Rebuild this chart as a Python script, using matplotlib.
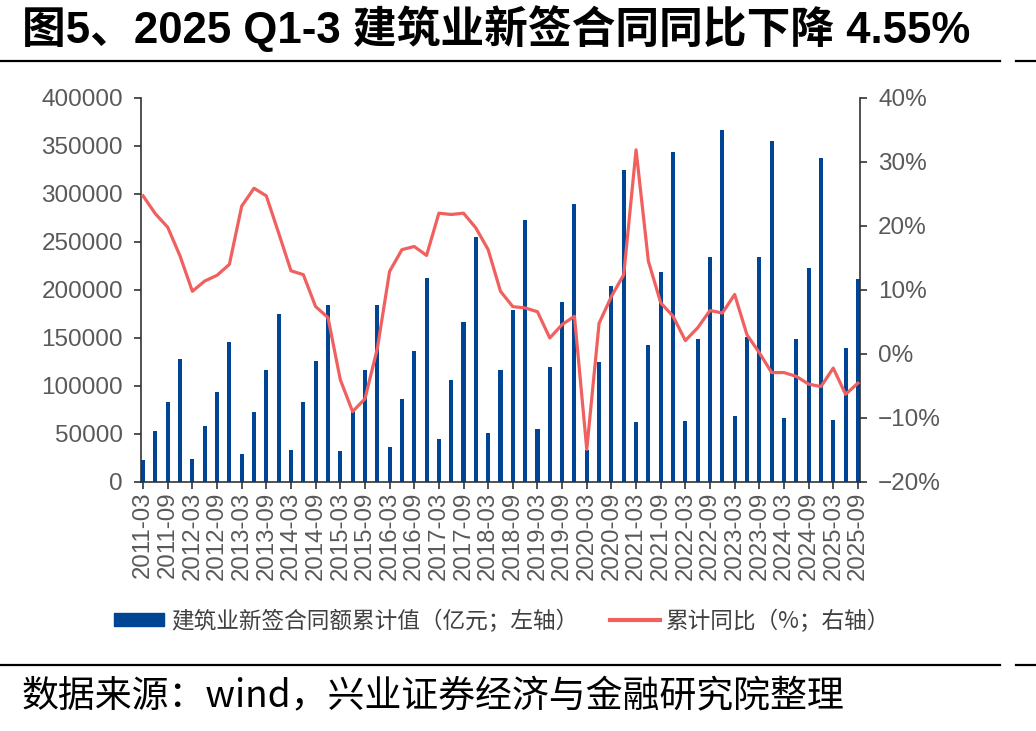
import matplotlib
matplotlib.use('Agg')
import numpy as np
from matplotlib import pyplot as plt
from matplotlib.patches import Patch
from matplotlib.lines import Line2D

# quarterly cumulative new contracts (亿元) and cumulative YoY (%)
quarters = [f'{y}-{m}' for y in range(2011, 2026) for m in ('03', '06', '09', '12')][:59]

contracts = [22600, 52800, 83000, 128500,
             24000, 58000, 94100, 146200,
             29200, 73300, 117000, 175000,
             33700, 83000, 125700, 184700,
             31900, 76000, 117000, 184700,
             36100, 86800, 136800, 212100,
             44400, 106200, 166700, 254800,
             51400, 117000, 179200, 272600,
             55200, 120100, 187500, 289200,
             33000, 125300, 203800, 325000,
             62100, 143000, 218700, 344100,
             63500, 149000, 234000, 366300,
             69100, 151000, 234000, 355200,
             66300, 149000, 222900, 337100,
             64900, 139200, 211800]

yoy = [24.7, 21.9, 19.8, 15.3,
       9.8, 11.4, 12.3, 14.0,
       23.1, 25.9, 24.7, 18.9,
       13.0, 12.4, 7.4, 5.7,
       -4.0, -9.0, -7.0, 0.8,
       12.9, 16.3, 16.8, 15.4,
       22.0, 21.8, 22.0, 19.7,
       16.3, 9.8, 7.4, 7.2,
       6.6, 2.5, 4.6, 5.9,
       -14.9, 4.8, 9.0, 12.4,
       31.9, 14.5, 8.0, 5.9,
       2.1, 4.1, 6.8, 6.4,
       9.3, 3.0, 0.2, -2.9,
       -2.9, -3.5, -4.7, -5.1,
       -2.2, -6.3, -4.55]

left_ticks = list(range(0, 400001, 50000))
right_ticks = list(range(-20, 41, 10))

BLUE = '#004494'
RED = '#F0605F'
GRAY = '#595959'

plt.rcParams['font.family'] = ['Liberation Sans', 'Noto Sans CJK SC', 'DejaVu Sans']
plt.rcParams['axes.unicode_minus'] = True

fig = plt.figure(figsize=(10.36, 7.31), dpi=100)
ax = fig.add_axes([141 / 1036, 1 - 482 / 731, 719 / 1036, 384 / 731])
ax2 = ax.twinx()

x = np.arange(len(quarters))
ax.bar(x, contracts, width=0.33, color=BLUE, zorder=2)
ax2.plot(x, yoy, color=RED, lw=2.3, zorder=3)

ax.set_xlim(-0.17, len(quarters) - 0.83)
ax.set_ylim(0, 400000)
ax2.set_ylim(-20, 40)

ax.set_yticks(left_ticks)
ax.set_yticklabels([str(v) for v in left_ticks])
ax2.set_yticks(right_ticks)
ax2.set_yticklabels([f'\u2212{abs(v)}%' if v < 0 else f'{v}%' for v in right_ticks])

ax.set_xticks(x[::2])
ax.set_xticklabels(quarters[::2], rotation=90)

for a in (ax, ax2):
    a.spines['top'].set_visible(False)
    for s in a.spines.values():
        s.set_color('#333333')
        s.set_linewidth(1.2)
ax.spines['right'].set_visible(False)
ax2.spines['left'].set_visible(False)
ax2.spines['bottom'].set_visible(False)

ax.tick_params(axis='y', labelsize=17.5, colors='#333333', labelcolor=GRAY, length=5, width=1.2, pad=8)
ax.tick_params(axis='x', labelsize=17.3, colors='#333333', labelcolor=GRAY, length=5, width=1.2, pad=2)
ax2.tick_params(axis='y', labelsize=17.5, colors='#333333', labelcolor=GRAY, length=5, width=1.2, pad=8)
ax.set_zorder(ax2.get_zorder() - 1)
ax2.patch.set_visible(False)

handles = [Patch(facecolor=BLUE, edgecolor=BLUE),
           Line2D([0], [0], color=RED, lw=3)]
labels = ['建筑业新签合同额累计值（亿元；左轴）', '累计同比（%；右轴）']
fig.legend(handles, labels, loc='center', bbox_to_anchor=(0.485, 1 - 621 / 731), ncol=2,
           frameon=False, labelcolor='#404040', handlelength=2.2,
           handleheight=0.55, handletextpad=0.3, columnspacing=1.4,
           prop={'family': ['Noto Sans CJK SC', 'DejaVu Sans'], 'size': 16.3})

fig.text(22 / 1036, 1 - 29 / 731, '图5、2025 Q1-3 建筑业新签合同同比下降 4.55%',
         fontsize=31.5, fontweight='bold', va='center', ha='left', color='black')
fig.text(22 / 1036, 1 - 697 / 731, '数据来源：wind，兴业证券经济与金融研究院整理',
         fontsize=26.6, va='center', ha='left', color='black',
         family=['Noto Sans CJK SC', 'DejaVu Sans'])

for yy in (61, 665):
    fig.add_artist(Line2D([0, 1000 / 1036], [1 - yy / 731] * 2, color='black', lw=1.6))
    fig.add_artist(Line2D([1016 / 1036, 1], [1 - yy / 731] * 2, color='black', lw=1.6))

fig.savefig('out.png', dpi=100)
